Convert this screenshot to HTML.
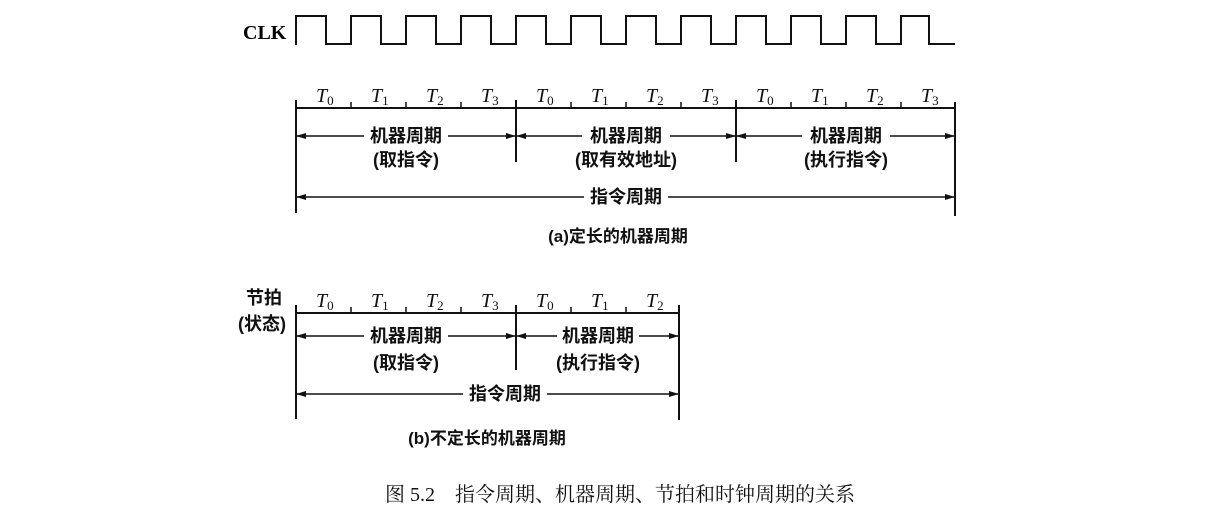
<!DOCTYPE html>
<html><head><meta charset="utf-8"><style>
html,body{margin:0;padding:0;background:#fff;}
svg{display:block}
.t{font-family:"Liberation Serif",serif;font-style:italic;font-size:20px}
.s{font-family:"Liberation Serif",serif;font-style:normal;font-size:13px}
.c{font-family:"Liberation Sans","Noto Sans CJK SC",sans-serif;font-weight:bold;font-size:18px}
</style></head><body>
<svg width="1212" height="516" viewBox="0 0 1212 516" xmlns="http://www.w3.org/2000/svg">
<defs>
<marker id="a" markerWidth="10" markerHeight="6" refX="9" refY="3" orient="auto" markerUnits="userSpaceOnUse"><path d="M0,0 L10,3 L0,6 z" fill="#111"/></marker>
</defs>
<g stroke="#111" stroke-width="2" fill="none">
<path d="M296,45 V16 H326 V44 H351 V16 H381 V44 H406 V16 H436 V44 H461 V16 H491 V44 H516 V16 H546 V44 H571 V16 H601 V44 H626 V16 H656 V44 H681 V16 H711 V44 H736 V16 H766 V44 H791 V16 H821 V44 H846 V16 H876 V44 H901 V16 H929 V44 H955"/>
<line x1="296" y1="108" x2="955" y2="108"/>
<line x1="296" y1="100" x2="296" y2="213"/>
<line x1="516" y1="100" x2="516" y2="162"/>
<line x1="736" y1="100" x2="736" y2="162"/>
<line x1="955" y1="102" x2="955" y2="216"/>
<g stroke-width="1.5">
<line x1="351" y1="102" x2="351" y2="108"/><line x1="406" y1="102" x2="406" y2="108"/><line x1="461" y1="102" x2="461" y2="108"/>
<line x1="571" y1="102" x2="571" y2="108"/><line x1="626" y1="102" x2="626" y2="108"/><line x1="681" y1="102" x2="681" y2="108"/>
<line x1="791" y1="102" x2="791" y2="108"/><line x1="846" y1="102" x2="846" y2="108"/><line x1="901" y1="102" x2="901" y2="108"/>
<line x1="364" y1="136" x2="297" y2="136" marker-end="url(#a)"/>
<line x1="448" y1="136" x2="515" y2="136" marker-end="url(#a)"/>
<line x1="582" y1="136" x2="517" y2="136" marker-end="url(#a)"/>
<line x1="670" y1="136" x2="735" y2="136" marker-end="url(#a)"/>
<line x1="802" y1="136" x2="737" y2="136" marker-end="url(#a)"/>
<line x1="890" y1="136" x2="954" y2="136" marker-end="url(#a)"/>
<line x1="584" y1="197" x2="297" y2="197" marker-end="url(#a)"/>
<line x1="668" y1="197" x2="954" y2="197" marker-end="url(#a)"/>
</g>
<line x1="296" y1="313" x2="679" y2="313"/>
<line x1="296" y1="305" x2="296" y2="419"/>
<line x1="516" y1="305" x2="516" y2="370"/>
<line x1="679" y1="305" x2="679" y2="420"/>
<g stroke-width="1.5">
<line x1="351" y1="307" x2="351" y2="313"/><line x1="406" y1="307" x2="406" y2="313"/><line x1="461" y1="307" x2="461" y2="313"/>
<line x1="571" y1="307" x2="571" y2="313"/><line x1="626" y1="307" x2="626" y2="313"/>
<line x1="364" y1="336" x2="297" y2="336" marker-end="url(#a)"/>
<line x1="448" y1="336" x2="515" y2="336" marker-end="url(#a)"/>
<line x1="557" y1="336" x2="517" y2="336" marker-end="url(#a)"/>
<line x1="639" y1="336" x2="678" y2="336" marker-end="url(#a)"/>
<line x1="463" y1="394" x2="297" y2="394" marker-end="url(#a)"/>
<line x1="547" y1="394" x2="678" y2="394" marker-end="url(#a)"/>
</g>
</g>
<text x="243" y="39" font-family="Liberation Serif,serif" font-size="20" font-weight="bold">CLK</text>
<g class="t" fill="#111">
<text x="316" y="102">T<tspan class="s" dy="3">0</tspan></text>
<text x="371" y="102">T<tspan class="s" dy="3">1</tspan></text>
<text x="426" y="102">T<tspan class="s" dy="3">2</tspan></text>
<text x="481" y="102">T<tspan class="s" dy="3">3</tspan></text>
<text x="536" y="102">T<tspan class="s" dy="3">0</tspan></text>
<text x="591" y="102">T<tspan class="s" dy="3">1</tspan></text>
<text x="646" y="102">T<tspan class="s" dy="3">2</tspan></text>
<text x="701" y="102">T<tspan class="s" dy="3">3</tspan></text>
<text x="756" y="102">T<tspan class="s" dy="3">0</tspan></text>
<text x="811" y="102">T<tspan class="s" dy="3">1</tspan></text>
<text x="866" y="102">T<tspan class="s" dy="3">2</tspan></text>
<text x="921" y="102">T<tspan class="s" dy="3">3</tspan></text>
<text x="316" y="307">T<tspan class="s" dy="3">0</tspan></text>
<text x="371" y="307">T<tspan class="s" dy="3">1</tspan></text>
<text x="426" y="307">T<tspan class="s" dy="3">2</tspan></text>
<text x="481" y="307">T<tspan class="s" dy="3">3</tspan></text>
<text x="536" y="307">T<tspan class="s" dy="3">0</tspan></text>
<text x="591" y="307">T<tspan class="s" dy="3">1</tspan></text>
<text x="646" y="307">T<tspan class="s" dy="3">2</tspan></text>
</g>
<g class="c" fill="#111" text-anchor="middle">
<text x="406" y="142">机器周期</text><text x="406" y="166">(取指令)</text>
<text x="626" y="142">机器周期</text><text x="626" y="166">(取有效地址)</text>
<text x="846" y="142">机器周期</text><text x="846" y="166">(执行指令)</text>
<text x="626" y="203">指令周期</text>
<text x="618" y="242" font-size="17">(a)定长的机器周期</text>
<text x="264" y="304">节拍</text><text x="262" y="330">(状态)</text>
<text x="406" y="342">机器周期</text><text x="406" y="369">(取指令)</text>
<text x="598" y="342">机器周期</text><text x="598" y="369">(执行指令)</text>
<text x="505" y="400">指令周期</text>
<text x="487" y="444" font-size="17">(b)不定长的机器周期</text>
</g>
<text x="385" y="501" font-family="Liberation Serif,'Noto Serif CJK SC','Noto Sans CJK SC',serif" font-size="20" fill="#111">图 5.2　指令周期、机器周期、节拍和时钟周期的关系</text>
</svg>
</body></html>
